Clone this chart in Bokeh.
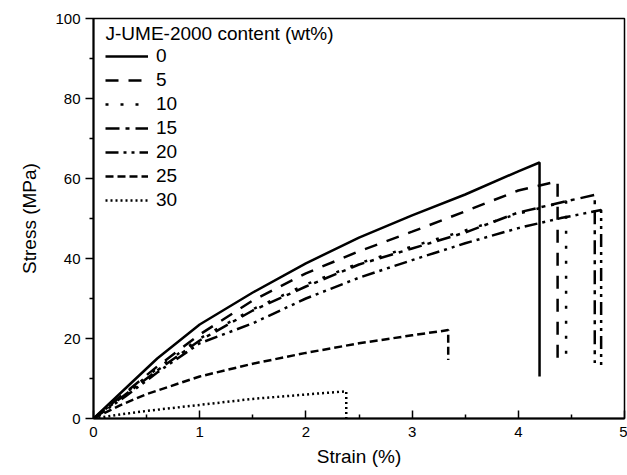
from bokeh.plotting import figure
from bokeh.models import Range1d, FixedTicker, Legend, LegendItem, Label
from bokeh.embed import file_html
from bokeh.resources import INLINE

# ---- data ----
contents = ["0", "5", "10", "15", "20", "25", "30"]

strain_0 = [0, 0.3, 0.6, 1.0, 1.5, 2.0, 2.5, 3.0, 3.5, 4.0, 4.2, 4.2]
stress_0 = [0, 7.5, 15.0, 23.5, 31.5, 38.8, 45.2, 50.8, 56.0, 61.8, 64.0, 10.5]

strain_5 = [0, 0.3, 0.6, 1.0, 1.5, 2.0, 2.5, 3.0, 3.5, 4.0, 4.37, 4.37]
stress_5 = [0, 6.5, 13.0, 21.0, 29.5, 36.3, 41.8, 46.7, 51.8, 57.0, 59.3, 14.5]

strain_10 = [0, 0.3, 0.6, 1.0, 1.5, 2.0, 2.5, 3.0, 3.5, 4.0, 4.45, 4.45]
stress_10 = [0, 6.3, 12.5, 20.0, 27.3, 33.5, 38.8, 43.0, 47.0, 51.2, 54.3, 14.5]

strain_15 = [0, 0.3, 0.6, 1.0, 1.5, 2.0, 2.5, 3.0, 3.5, 4.0, 4.4, 4.72, 4.72]
stress_15 = [0, 6.0, 12.0, 19.5, 27.0, 33.0, 38.5, 42.5, 46.5, 51.5, 54.0, 55.9, 13.9]

strain_20 = [0, 0.3, 0.6, 1.0, 1.5, 2.0, 2.5, 3.0, 3.5, 4.0, 4.4, 4.78, 4.78]
stress_20 = [0, 5.5, 11.5, 18.8, 23.8, 30.0, 35.2, 39.6, 43.8, 47.6, 50.1, 52.1, 12.1]

strain_25 = [0, 0.25, 0.5, 1.0, 1.5, 2.0, 2.5, 3.0, 3.34, 3.34]
stress_25 = [0, 3.3, 6.1, 10.5, 13.7, 16.4, 18.8, 20.8, 22.1, 14.6]

strain_30 = [0, 0.25, 0.5, 1.0, 1.5, 2.0, 2.38, 2.38]
stress_30 = [0, 1.0, 1.9, 3.4, 4.9, 6.0, 6.8, 0.0]

x_ticks = [0, 1, 2, 3, 4, 5]
x_minor = [0.5, 1.5, 2.5, 3.5, 4.5]
y_ticks = [0, 20, 40, 60, 80, 100]
y_minor = [10, 30, 50, 70, 90]

series = [
    (strain_0, stress_0, "solid"),
    (strain_5, stress_5, "13 10"),
    (strain_10, stress_10, "3 12"),
    (strain_15, stress_15, "14 6 4 6"),
    (strain_20, stress_20, "13 5 3 5 3 5"),
    (strain_25, stress_25, "8 4"),
    (strain_30, stress_30, "2 3"),
]

FONT = "Liberation Sans"

p = figure(width=627, height=475, x_range=Range1d(0, 5), y_range=Range1d(0, 100),
           output_backend="svg", toolbar_location=None,
           min_border_left=93, min_border_right=3, min_border_top=18, min_border_bottom=57)
p.xgrid.visible = False
p.ygrid.visible = False
p.outline_line_color = "black"
p.outline_line_width = 1.5
p.background_fill_color = "white"
p.border_fill_color = "white"

p.xaxis.ticker = FixedTicker(ticks=x_ticks, minor_ticks=x_minor)
p.yaxis.ticker = FixedTicker(ticks=y_ticks, minor_ticks=y_minor)

for ax in (p.xaxis, p.yaxis):
    ax.axis_line_width = 2
    ax.axis_line_color = "black"
    ax.major_tick_line_width = 1.5
    ax.minor_tick_line_width = 1.5
    ax.major_tick_line_color = "black"
    ax.minor_tick_line_color = "black"
    ax.major_label_text_font = FONT
    ax.major_label_text_font_size = "15px"
    ax.major_label_text_color = "black"
    ax.axis_label_text_font = FONT
    ax.axis_label_text_font_size = "19px"
    ax.axis_label_text_font_style = "normal"
    ax.axis_label_text_color = "black"

p.xaxis.major_tick_in = 8
p.xaxis.major_tick_out = 0
p.xaxis.minor_tick_in = 4
p.xaxis.minor_tick_out = 0
p.xaxis.major_label_standoff = 8
p.xaxis.axis_label = "Strain (%)"
p.xaxis.axis_label_standoff = 6

p.yaxis.major_tick_in = 0
p.yaxis.major_tick_out = 8
p.yaxis.minor_tick_in = 0
p.yaxis.minor_tick_out = 4
p.yaxis.major_label_standoff = 5
p.yaxis.axis_label = "Stress (MPa)"
p.yaxis.axis_label_standoff = 12

items = []
for lab, (xs, ys, dash) in zip(contents, series):
    r = p.line(xs, ys, line_color="black", line_width=2.5, line_dash=dash)
    items.append(LegendItem(label=lab, renderers=[r]))

legend = Legend(items=items, location=(0, 194), padding=12, margin=0, spacing=0,
                glyph_width=43, glyph_height=24, label_height=24, label_standoff=8,
                border_line_alpha=0, background_fill_alpha=0,
                label_text_font=FONT, label_text_font_size="19px", label_text_color="black")
p.add_layout(legend)

title = Label(x=0.113, y=96.2, text="J-UME-2000 content (wt%)", text_font=FONT,
              text_font_size="19px", text_baseline="middle", text_align="left",
              text_color="black")
p.add_layout(title)

open("out.html", "w").write(file_html(p, INLINE))
